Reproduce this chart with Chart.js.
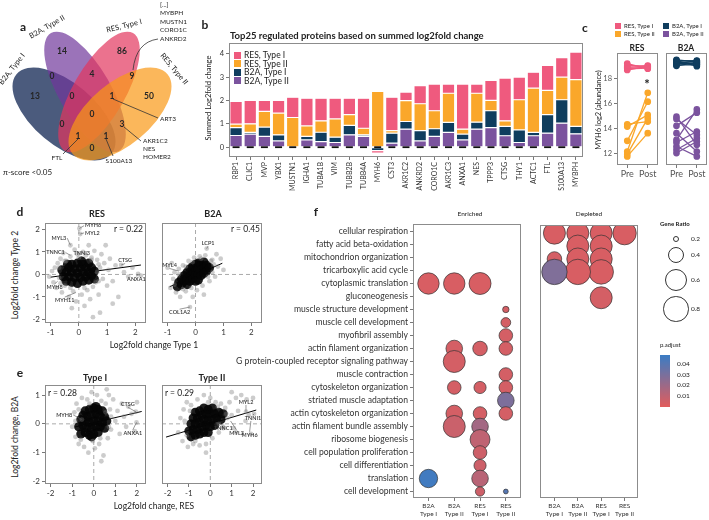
<!DOCTYPE html>
<html><head><meta charset="utf-8">
<script src="https://cdn.jsdelivr.net/npm/chart.js@4.4.1/dist/chart.umd.min.js"></script>
<style>
body{margin:0;background:#fff}
#fig{position:relative;width:709px;height:520px;overflow:hidden;background:#fff;font-family:Lato,"Noto Sans",sans-serif;color:#222}
.t{position:absolute;white-space:nowrap;line-height:1}
.sq{position:absolute}
</style></head><body><div id="fig"></div>
<script>
// ---- data ----
const vennCounts = [14, 86, 0, 4, 9, 13, 0, 1, 50, 0, 0, 3, 1, 1, 0];

const proteins = ['RBP1','CLIC1','MVP','YBX1','MUSTN1','IGHA1','TUBA1B','VIM','TUBB2B','TUBB4A','MYH6','CST3','AKR1C2','ANKRD2','CORO1C','AKR1C3','ANXA1','NES','TPPP3','CTSG','THY1','ACTC1','FTL','S100A13','MYBPH'];
const b2aTypeII = [0.50,0.56,0.46,0.27,-0.03,0.31,0.24,0.20,0.53,0.46,0.00,0.17,0.77,0.27,0.46,0.63,0.31,0.77,0.84,0.49,0.20,0.49,0.60,1.03,0.57];
const b2aTypeI  = [0.34,0.07,0.40,0.26,0.00,0.15,0.40,0.23,0.40,0.07,-0.15,0.43,0.33,0.44,0.33,0.43,0.25,0.30,0.72,0.40,0.54,0.14,0.79,1.00,0.32];
const resTypeII = [0.15,0.37,0.67,0.93,1.27,0.45,0.49,0.78,0.46,0.28,2.39,0.11,0.89,1.15,0.77,1.25,0.21,1.24,0.44,0.24,1.29,1.90,1.04,0.97,2.00];
const resTypeI  = [0.97,1.00,0.47,0.54,0.87,1.19,0.97,0.89,0.71,1.29,-0.10,1.43,0.37,0.77,1.14,0.39,1.93,0.39,0.86,1.83,0.97,0.68,1.07,0.83,1.18];

const timepoints = ['Pre', 'Post'];
const myh6ResIPre  = [19.15, 19.05, 18.95, 18.85, 18.75, 18.65];
const myh6ResIPost = [18.75, 18.85, 19.0, 18.9, 18.8, 18.95];
const myh6ResIIPre  = [14.34, 14.15, 13.02, 12.17, 11.97, 11.78];
const myh6ResIIPost = [14.55, 15.08, 16.13, 16.84, 14.81, 13.63];
const myh6B2aIPre  = [19.45, 19.38, 19.3, 19.22, 19.15, 19.05, 18.98, 19.4, 19.25];
const myh6B2aIPost = [19.3, 19.4, 19.15, 19.35, 19.2, 19.05, 19.25, 18.95, 19.1];
const myh6B2aIIPre  = [14.94, 14.76, 14.21, 13.63, 13.1, 12.89, 12.57, 12.31, 12.05];
const myh6B2aIIPost = [12.7, 13.5, 15.26, 12.17, 15.52, 13.76, 11.78, 13.23, 12.97];

// d: RES / B2A, type 1 vs type 2
const resCore = [[-0.55,-0.1],[-0.45,0.1],[-0.45,-0.3],[-0.35,0.3],[-0.35,-0.1],[-0.25,0.45],[-0.25,0.1],[-0.25,-0.35],[-0.15,0.25],[-0.15,-0.15],[-0.05,0.5],[-0.05,0.05],[-0.05,-0.4],[0.05,0.3],[0.05,-0.15],[0.15,0.45],[0.15,0.1],[0.15,-0.3],[0.25,0.3],[0.25,-0.1],[0.35,0.5],[0.35,0.1],[0.35,-0.25],[0.45,0.3],[0.45,-0.05],[0.55,0.15],[-0.6,0.2],[0.55,-0.2],[0.1,0.6],[-0.4,0.45]];
const resSpread = [[-1.05,-0.1],[-0.95,0.15],[-0.9,-0.35],[-0.85,0.3],[-0.8,-0.6],[-0.75,0.5],[-0.7,-0.15],[-0.65,0.7],[-0.6,-0.8],[-0.55,0.95],[-0.5,-0.5],[-0.45,0.6],[-0.3,1.3],[-0.35,-1.0],[-0.3,0.8],[-0.2,-0.75],[-0.15,1.1],[-0.1,-1.2],[-0.05,0.9],[0.02,2.05],[0.05,1.8],[0.1,-0.9],[0.15,1.0],[0.2,-1.4],[0.25,0.85],[0.3,-0.7],[0.35,1.3],[0.4,-1.1],[0.45,0.75],[0.5,-0.55],[0.55,1.05],[0.6,-0.35],[0.65,0.65],[0.7,-0.9],[0.75,0.3],[0.8,0.9],[0.85,-0.2],[0.9,0.5],[1.0,-0.5],[1.05,0.2],[1.1,0.7],[1.2,-0.3],[1.3,0.4],[1.4,-1.0],[1.5,0.42],[1.6,0.1],[1.75,-0.1],[1.9,0.3],[2.1,0.02],[0.75,-1.7],[0.5,-1.9],[1.2,-1.3],[-0.25,-1.5],[2.2,-0.05],[0.95,1.3],[-0.7,0.3],[-0.65,-0.4],[-0.5,0.6],[-0.3,-0.6],[0.0,0.75],[0.2,-0.6],[0.45,0.65],[0.7,-0.3],[0.7,0.45],[0.65,0.1]];
const resFit = [[-1.0,-0.12],[2.2,0.42]];
const b2aCore = [[-0.6,-0.35],[-0.5,-0.2],[-0.5,-0.45],[-0.4,-0.05],[-0.4,-0.3],[-0.3,0.1],[-0.3,-0.2],[-0.3,-0.45],[-0.2,0.25],[-0.2,-0.05],[-0.2,-0.3],[-0.1,0.35],[-0.1,0.1],[-0.1,-0.2],[0.0,0.45],[0.0,0.2],[0.0,-0.05],[0.0,-0.3],[0.1,0.5],[0.1,0.25],[0.1,0.0],[0.1,-0.25],[0.2,0.45],[0.2,0.2],[0.2,-0.05],[0.3,0.55],[0.3,0.3],[0.3,0.05],[0.4,0.4],[0.4,0.15],[0.5,0.3],[-0.65,-0.55]];
const b2aSpread = [[-1.0,0.3],[-0.9,-0.6],[-0.8,-0.2],[-0.75,0.1],[-0.7,-0.8],[-0.6,0.25],[-0.55,-1.0],[-0.45,0.4],[-0.35,-0.75],[-0.2,-1.45],[-0.25,0.6],[-0.15,-0.6],[-0.05,0.75],[0.05,-0.7],[0.15,0.8],[0.25,-0.5],[0.35,0.85],[0.4,1.15],[0.5,-0.3],[0.55,0.6],[0.6,0.1],[0.65,0.45],[0.7,-0.1],[0.8,0.35],[0.9,0.7],[1.0,0.2],[0.75,0.9],[-0.1,-1.0],[0.3,-0.9],[-0.85,0.5],[-0.75,-0.45],[-0.6,0.0],[-0.45,-0.65],[-0.35,0.35],[-0.1,0.55],[0.2,0.7],[0.45,-0.1],[0.6,0.65]];
const b2aFit = [[-0.93,-0.55],[0.96,0.5]];

// e: type I / type II, RES vs B2A
const typeICore = [[-0.7,-0.1],[-0.6,0.15],[-0.6,-0.35],[-0.5,0.3],[-0.5,-0.05],[-0.4,0.45],[-0.4,0.1],[-0.4,-0.3],[-0.3,0.25],[-0.3,-0.15],[-0.2,0.5],[-0.2,0.05],[-0.2,-0.4],[-0.1,0.3],[-0.1,-0.15],[0.0,0.55],[0.0,0.1],[0.0,-0.35],[0.1,0.35],[0.1,-0.1],[0.2,0.5],[0.2,0.1],[0.2,-0.3],[0.3,0.3],[0.3,-0.1],[0.4,0.45],[0.4,0.05],[0.5,0.25],[0.5,-0.15],[0.6,0.1],[-0.1,-0.45],[0.1,0.6]];
const typeISpread = [[-1.0,-0.1],[-0.9,0.4],[-0.85,-0.45],[-0.8,0.7],[-0.7,-0.7],[-0.55,0.15],[-0.55,0.9],[-0.45,-0.8],[-0.3,0.85],[-0.25,-1.0],[-0.1,1.1],[0.05,-0.85],[0.15,1.0],[0.25,-0.7],[0.35,0.8],[0.45,-1.1],[0.55,0.7],[0.65,-0.5],[0.75,0.5],[0.8,-0.2],[0.9,0.85],[1.0,0.1],[1.1,0.45],[1.2,-0.35],[1.3,0.7],[1.4,0.25],[1.5,-0.1],[1.6,0.6],[1.75,0.35],[1.9,-0.25],[2.0,0.75],[1.95,0.42],[1.98,0.05],[0.6,1.2],[0.35,-1.3],[-0.05,-0.6],[0.7,1.0],[-0.85,0.1],[-0.7,0.5],[-0.6,-0.55],[-0.2,0.7],[0.3,-0.5],[0.55,0.4],[0.7,-0.1],[0.8,0.25]];
const typeIFit = [[-0.88,-0.11],[2.22,0.43]];
const typeIICore = [[-1.0,-0.25],[-0.9,0.0],[-0.9,-0.45],[-0.8,0.2],[-0.8,-0.2],[-0.7,0.4],[-0.7,0.0],[-0.7,-0.4],[-0.6,0.2],[-0.6,-0.2],[-0.5,0.45],[-0.5,0.05],[-0.5,-0.35],[-0.4,0.3],[-0.4,-0.1],[-0.3,0.55],[-0.3,0.15],[-0.3,-0.3],[-0.2,0.35],[-0.2,-0.05],[-0.1,0.5],[-0.1,0.1],[-0.1,-0.3],[0.0,0.35],[0.0,-0.1],[0.1,0.55],[0.1,0.15],[0.2,0.35],[0.2,-0.05],[0.3,0.2],[0.4,0.4],[0.5,0.15],[0.6,0.35]];
const typeIISpread = [[-1.5,-0.3],[-1.4,0.2],[-1.3,-0.6],[-1.25,0.5],[-1.1,0.75],[-1.05,-0.8],[-0.9,0.65],[-0.8,-0.7],[-0.6,0.85],[-0.5,-0.75],[-0.3,1.0],[-0.2,-0.7],[0.0,0.9],[0.1,-0.5],[0.25,0.75],[0.4,-0.3],[0.5,0.7],[0.6,-0.1],[0.7,0.55],[0.8,0.2],[0.9,0.75],[1.0,0.3],[1.1,-0.15],[1.2,0.9],[1.3,0.45],[1.45,1.0],[1.67,0.42],[1.7,0.85],[1.8,0.3],[2.05,0.35],[2.0,0.9],[1.9,-0.35],[1.2,-0.3],[0.6,-0.15],[-0.2,-1.0],[1.65,0.1],[1.0,1.1],[-1.2,0.1],[-1.1,-0.4],[-0.95,0.45],[-0.7,-0.6],[-0.1,0.75],[0.35,0.6],[0.4,0.0],[0.75,0.35]];
const typeIIFit = [[-2.07,-0.46],[2.15,0.48]];

// f: GO terms, each column [row, gene ratio, p.adjust]
const goTerms = ['cellular respiration','fatty acid beta-oxidation','mitochondrion organization','tricarboxylic acid cycle','cytoplasmic translation','gluconeogenesis','muscle structure development','muscle cell development','myofibril assembly','actin filament organization','G protein-coupled receptor signaling pathway','muscle contraction','cytoskeleton organization','striated muscle adaptation','actin cytoskeleton organization','actin filament bundle assembly','ribosome biogenesis','cell population proliferation','cell differentiation','translation','cell development'];
const groups = [['B2A','Type I'],['B2A','Type II'],['RES','Type I'],['RES','Type II']];
const enrB2AI  = [[4,0.58,0.003],[19,0.48,0.046]];
const enrB2AII = [[4,0.58,0.003],[9,0.42,0.004],[10,0.6,0.004],[12,0.35,0.004],[14,0.42,0.004],[15,0.6,0.007]];
const enrRESI  = [[4,0.6,0.003],[9,0.37,0.004],[12,0.32,0.004],[14,0.35,0.004],[15,0.42,0.018],[16,0.53,0.01],[17,0.35,0.006],[18,0.32,0.006],[19,0.42,0.012],[20,0.26,0.006]];
const enrRESII = [[6,0.2,0.004],[7,0.27,0.004],[8,0.35,0.004],[9,0.35,0.004],[11,0.35,0.004],[12,0.35,0.004],[13,0.42,0.029],[14,0.35,0.004],[20,0.16,0.04]];
const depB2AI  = [[0,0.6,0.003],[2,0.37,0.004],[3,0.8,0.028]];
const depB2AII = [[0,0.6,0.003],[1,0.6,0.003],[2,0.6,0.003],[3,0.8,0.003]];
const depRESI  = [[0,0.6,0.003],[1,0.6,0.003],[2,0.6,0.003],[3,0.75,0.003],[5,0.6,0.004]];
const depRESII = [[0,0.68,0.003]];
const ratioLegend = [0.2, 0.4, 0.6, 0.8];
const padjTicks = [0.04, 0.03, 0.02, 0.01];

// ---- colours / helpers ----
const PINK = '#ef5a7e', ORANGE = '#faa72a', NAVY = '#0f3d5e', PURPLE = '#7b539e';
Chart.defaults.font.family = 'Lato, "Noto Sans", sans-serif';
Chart.defaults.color = '#333';
Chart.defaults.plugins.legend.display = false;
Chart.defaults.plugins.tooltip.enabled = false;
Chart.defaults.animation = false;

Chart.register({
  id: 'frame',
  defaults: { color: '#8c8c8c' },
  afterDatasetsDraw(chart, args, o) {
    const a = chart.chartArea, c = chart.ctx;
    c.save(); c.strokeStyle = o.color; c.lineWidth = 1;
    c.strokeRect(Math.round(a.left) + 0.5, Math.round(a.top) + 0.5, Math.round(a.right - a.left) - 1, Math.round(a.bottom - a.top) - 1);
    c.restore();
  }
});

const fig = document.getElementById('fig');
function mk(x, y, w, h, cfg) {
  const c = document.createElement('canvas');
  c.width = w; c.height = h;
  c.style.cssText = 'position:absolute;left:' + x + 'px;top:' + y + 'px;width:' + w + 'px;height:' + h + 'px';
  fig.appendChild(c);
  cfg.options.responsive = false;
  return new Chart(c, cfg);
}
// chart whose plot area is exactly the box L,T,W,H; m = [top,right,bottom,left] room for labels
function boxChart(L, T, W, H, m, cfg) {
  cfg.options.layout = { padding: { top: m[0], right: m[1], bottom: 0, left: 0 } };
  cfg.options.scales.x.afterFit = sc => { sc.height = m[2]; };
  cfg.options.scales.y.afterFit = sc => { sc.width = m[3]; };
  return mk(L - m[3], T - m[0], W + m[1] + m[3], H + m[0] + m[2], cfg);
}
const at = vals => s => { s.ticks = vals.map(v => ({ value: v })); };
const xy = a => a.map(p => ({ x: p[0], y: p[1] }));
const tickGrid = { display: true, drawOnChartArea: false, tickLength: 3, color: '#555', lineWidth: 0.8 };

function txt(s, x, y, o) {
  o = o || {};
  const d = document.createElement('div');
  d.className = 't';
  d.textContent = s;
  const ax = o.align === 'left' ? '0' : o.align === 'right' ? '-100%' : '-50%';
  d.style.left = x + 'px'; d.style.top = y + 'px';
  d.style.fontSize = (o.size || 8) + 'px';
  if (o.bold) d.style.fontWeight = 700;
  if (o.color) d.style.color = o.color;
  d.style.transform = 'translate(' + ax + ',-50%)' + (o.rot ? ' rotate(' + o.rot + 'deg)' : '');
  fig.appendChild(d);
}
function sq(x, y, w, h, css) {
  const d = document.createElement('div');
  d.className = 'sq';
  d.style.cssText += ';left:' + x + 'px;top:' + y + 'px;width:' + w + 'px;height:' + h + 'px;' + css;
  fig.appendChild(d);
}

// ---- a: Venn ----
const vennSets = [
  { cx: 64, cy: 114, a: 62, b: 31, rot: 40, color: '#2c3e66', alpha: 0.85 },
  { cx: 85, cy: 92, a: 68, b: 26, rot: 60, color: '#70389b', alpha: 0.7 },
  { cx: 99, cy: 92, a: 68, b: 26, rot: -60, color: '#e2365e', alpha: 0.7 },
  { cx: 120, cy: 114, a: 62, b: 31, rot: -40, color: '#f99816', alpha: 0.7 }
];
const vennSpots = [[62,51],[122,51],[52,76],[92,74],[132,76],[35,96],[72,96],[112,96],[149,96],[92,114],[62,124],[122,124],[78,136],[106,136],[92,148]];
const vennLines = [[[113,99],[158,118]],[[124,127],[141,141]],[[78,139],[63,154]],[[106,139],[113,156]]];
mk(0, 0, 200, 185, {
  type: 'scatter',
  data: { datasets: [{ data: vennSpots.map(p => ({ x: p[0], y: p[1] })), pointRadius: 0 }] },
  options: {
    layout: { padding: 0 },
    scales: { x: { display: false, min: 0, max: 200 }, y: { display: false, min: 0, max: 185, reverse: true } },
    plugins: { frame: false }
  },
  plugins: [{
    id: 'venn',
    beforeDatasetsDraw(ch) {
      const c = ch.ctx, X = v => ch.scales.x.getPixelForValue(v), Y = v => ch.scales.y.getPixelForValue(v);
      vennSets.forEach(e => {
        c.save(); c.globalAlpha = e.alpha; c.fillStyle = e.color;
        c.beginPath(); c.ellipse(X(e.cx), Y(e.cy), e.a, e.b, e.rot * Math.PI / 180, 0, 2 * Math.PI); c.fill();
        c.restore();
      });
      c.save(); c.strokeStyle = '#333'; c.lineWidth = 0.8;
      vennLines.forEach(l => { c.beginPath(); c.moveTo(X(l[0][0]), Y(l[0][1])); c.lineTo(X(l[1][0]), Y(l[1][1])); c.stroke(); });
      c.beginPath(); c.moveTo(X(133), Y(70)); c.quadraticCurveTo(X(136), Y(42), X(158), Y(39)); c.stroke();
      c.restore();
    },
    afterDatasetsDraw(ch) {
      const c = ch.ctx, pts = ch.getDatasetMeta(0).data;
      c.save(); c.font = '700 8.5px Lato, sans-serif'; c.fillStyle = '#262626';
      c.textAlign = 'center'; c.textBaseline = 'middle';
      pts.forEach((p, i) => c.fillText(String(vennCounts[i]), p.x, p.y));
      c.restore();
    }
  }]
});
txt('B2A, Type I', 12, 69, { size: 7.5, rot: -52 });
txt('B2A, Type II', 47, 27, { size: 7.5, rot: -30 });
txt('RES, Type I', 124, 26, { size: 7.5, rot: -14 });
txt('RES, Type II', 174, 69, { size: 7.5, rot: 50 });
['[...]', 'MYBPH', 'MUSTN1', 'CORO1C', 'ANKRD2'].forEach((s, i) => txt(s, 160, 5 + i * 8.4, { size: 6.5, align: 'left' }));
txt('ART3', 160, 119, { size: 6.5, align: 'left' });
['AKR1C2', 'NES', 'HOMER2'].forEach((s, i) => txt(s, 143, 141 + i * 8, { size: 6.5, align: 'left' }));
txt('FTL', 57, 158, { size: 6.5 });
txt('S100A13', 119, 161, { size: 6.5 });
txt('\u03c0-score <0.05', 3, 172, { size: 8, align: 'left' });

// ---- b: stacked bars ----
const barSeries = [
  ['B2A, Type II', b2aTypeII, PURPLE], ['B2A, Type I', b2aTypeI, NAVY],
  ['RES, Type II', resTypeII, ORANGE], ['RES, Type I', resTypeI, PINK]
];
boxChart(229, 43, 354, 114, [10, 10, 50, 30], {
  type: 'bar',
  data: {
    labels: proteins,
    datasets: barSeries.map(s => ({ label: s[0], data: s[1], backgroundColor: s[2], borderColor: 'rgba(255,255,255,0.85)', borderWidth: 0.6, borderSkipped: false, barPercentage: 0.88, categoryPercentage: 1 }))
  },
  options: {
    scales: {
      x: { stacked: true, border: { display: false }, grid: Object.assign({}, tickGrid, { offset: false }), ticks: { font: { size: 7 }, color: '#333', minRotation: 90, maxRotation: 90, autoSkip: false, padding: 2 } },
      y: { stacked: true, min: -0.42, max: 4.46, afterBuildTicks: at([0, 1, 2, 3, 4]), border: { display: false }, grid: tickGrid, ticks: { font: { size: 7.5 }, color: '#333', padding: 2 } }
    }
  },
  plugins: [{
    id: 'zeroDash',
    afterDatasetsDraw(ch) {
      const c = ch.ctx, y0 = ch.scales.y.getPixelForValue(0), x = ch.scales.x;
      c.save(); c.strokeStyle = '#111'; c.lineWidth = 1.8;
      proteins.forEach((p, i) => { const px = x.getPixelForValue(i); c.beginPath(); c.moveTo(px - 3.5, y0); c.lineTo(px + 3.5, y0); c.stroke(); });
      c.restore();
    }
  }]
});
txt('Top25 regulated proteins based on summed log2fold change', 230, 36, { size: 9.5, bold: true, align: 'left' });
txt('Summed Log2fold change', 209, 98, { size: 7.5, rot: -90 });
[['RES, Type I', PINK], ['RES, Type II', ORANGE], ['B2A, Type I', NAVY], ['B2A, Type II', PURPLE]].forEach((l, i) => {
  sq(234, 51.5 + i * 8.6, 7, 7, 'background:' + l[1]);
  txt(l[0], 244, 55.2 + i * 8.6, { size: 8.5, align: 'left' });
});

// ---- c: MYH6 paired ----
function pairSets(pre, post, color) {
  return pre.map((v, i) => ({ data: [v, post[i]], borderColor: color, backgroundColor: color, pointRadius: 2.7, borderWidth: 1.3 }));
}
function pairChart(L, W, sets, showY) {
  return boxChart(L, 53, W, 112, [10, 12, 20, showY ? 16 : 4], {
    type: 'line',
    data: { labels: timepoints, datasets: sets },
    options: {
      scales: {
        x: { offset: true, border: { display: false }, grid: tickGrid, ticks: { font: { size: 9 }, color: '#555', padding: 1, maxRotation: 0, autoSkip: false } },
        y: { min: 11.1, max: 20, afterBuildTicks: at([12, 14, 16, 18]), border: { display: false }, grid: showY ? tickGrid : { display: false }, ticks: { display: showY, font: { size: 7.5 }, color: '#555', padding: 2 } }
      }
    }
  });
}
pairChart(617, 41, pairSets(myh6ResIPre, myh6ResIPost, PINK).concat(pairSets(myh6ResIIPre, myh6ResIIPost, ORANGE)), true);
pairChart(665, 42, pairSets(myh6B2aIPre, myh6B2aIPost, NAVY).concat(pairSets(myh6B2aIIPre, myh6B2aIIPost, PURPLE)), false);
txt('RES', 637, 48, { size: 8.5, bold: true });
txt('B2A', 686, 48, { size: 8.5, bold: true });
txt('*', 647, 84, { size: 13, bold: true });
txt('MYH6 log2 (abundance)', 599, 110, { size: 7.5, rot: -90 });
[['RES, Type I', PINK, 615, 25.5], ['RES, Type II', ORANGE, 615, 34], ['B2A, Type I', NAVY, 663, 25.5], ['B2A, Type II', PURPLE, 663, 34]].forEach(l => {
  sq(l[2], l[3] - 3, 6, 6, 'background:' + l[1]);
  txt(l[0], l[2] + 9, l[3], { size: 6, align: 'left' });
});

// ---- d / e: scatter panels ----
function guides(notes) {
  return {
    id: 'guides',
    beforeDatasetsDraw(ch) {
      const c = ch.ctx, a = ch.chartArea, X = ch.scales.x.getPixelForValue(0), Y = ch.scales.y.getPixelForValue(0);
      c.save(); c.strokeStyle = '#aaa'; c.lineWidth = 1; c.setLineDash([4, 3]);
      c.beginPath(); c.moveTo(X, a.top); c.lineTo(X, a.bottom); c.moveTo(a.left, Y); c.lineTo(a.right, Y); c.stroke();
      c.restore();
    },
    afterDatasetsDraw(ch) {
      const c = ch.ctx, sx = ch.scales.x, sy = ch.scales.y;
      c.save(); c.font = '600 5.5px Lato, sans-serif'; c.fillStyle = '#333'; c.strokeStyle = '#555'; c.lineWidth = 0.6;
      c.textBaseline = 'middle';
      notes.forEach(n => {
        const px = sx.getPixelForValue(n[1]), py = sy.getPixelForValue(n[2]);
        const lx = sx.getPixelForValue(n[3]), ly = sy.getPixelForValue(n[4]);
        let ex = lx, ey = ly;
        if (n[5] === 'left') ex = lx - 1; else if (n[5] === 'right') ex = lx + 1; else ey = ly + (py > ly ? 3 : -3);
        c.beginPath(); c.moveTo(px, py); c.lineTo(ex, ey); c.stroke();
        c.textAlign = n[5];
        c.fillText(n[0], lx, ly);
      });
      c.restore();
    }
  };
}
function scatterPanel(L, T, W, H, o) {
  return boxChart(L, T, W, H, [10, 10, 24, o.yTicks ? 22 : 6], {
    type: 'scatter',
    data: { datasets: [
      { data: xy(o.spread), pointRadius: 2.4, backgroundColor: 'rgba(120,120,120,0.38)', borderWidth: 0 },
      { data: xy(o.core), pointRadius: 4.6, backgroundColor: 'rgba(5,5,5,0.9)', borderWidth: 0 },
      { data: xy(o.fit), showLine: true, pointRadius: 0, borderColor: '#000', borderWidth: 1 }
    ] },
    options: {
      scales: {
        x: { min: o.xr[0], max: o.xr[1], afterBuildTicks: at(o.xt), border: { display: false }, grid: tickGrid, ticks: { font: { size: 8 }, color: '#333', padding: 2, maxRotation: 0 } },
        y: { min: o.yr[0], max: o.yr[1], afterBuildTicks: at(o.yt), border: { display: false }, grid: o.yTicks ? tickGrid : { display: false }, ticks: { display: o.yTicks, font: { size: 8 }, color: '#333', padding: 2 } }
      }
    },
    plugins: [guides(o.notes)]
  });
}
const dX = [-1.2, 2.38], dY = [-2.16, 2.29], eX = [-2.26, 2.42], eY = [-2.09, 1.35];
scatterPanel(45, 223, 101, 100, { spread: resSpread, core: resCore, fit: resFit, xr: dX, yr: dY, xt: [-1, 0, 1, 2], yt: [-2, -1, 0, 1, 2], yTicks: true,
  notes: [['MYH6', 0.02, 2.05, 0.22, 2.17, 'left'], ['MYL2', 0.05, 1.8, 0.22, 1.85, 'left'], ['MYL3', -0.3, 1.3, -0.45, 1.62, 'right'], ['TNNC1', -0.3, 0.85, -0.5, 0.97, 'right'], ['TNNI3', 0.05, 0.7, 0.1, 0.95, 'center'], ['CTSG', 1.5, 0.42, 1.64, 0.62, 'center'], ['ANXA1', 2.1, 0.02, 2.04, -0.22, 'center'], ['MYH8', -0.75, -0.3, -0.86, -0.56, 'center'], ['MYH11', -0.1, -0.8, -0.5, -1.14, 'center']] });
scatterPanel(162, 223, 100, 100, { spread: b2aSpread, core: b2aCore, fit: b2aFit, xr: dX, yr: dY, xt: [-1, 0, 1, 2], yt: [-2, -1, 0, 1, 2], yTicks: false,
  notes: [['MYL4', -0.6, 0.15, -0.93, 0.4, 'center'], ['LCP1', 0.4, 1.15, 0.45, 1.4, 'center'], ['COL1A2', -0.2, -1.45, -0.57, -1.68, 'center']] });
scatterPanel(45, 385, 101, 99, { spread: typeISpread, core: typeICore, fit: typeIFit, xr: eX, yr: eY, xt: [-2, -1, 0, 1, 2], yt: [-2, -1, 0, 1], yTicks: true,
  notes: [['MYH8', -0.55, 0.15, -1.0, 0.31, 'right'], ['CTSG', 1.95, 0.42, 1.58, 0.68, 'center'], ['ANXA1', 1.98, 0.05, 1.81, -0.31, 'center']] });
scatterPanel(162, 385, 100, 99, { spread: typeIISpread, core: typeIICore, fit: typeIIFit, xr: eX, yr: eY, xt: [-2, -1, 0, 1, 2], yt: [-2, -1, 0, 1], yTicks: false,
  notes: [['MYL2', 1.67, 0.42, 1.67, 0.76, 'center'], ['TNNI1', 2.05, 0.35, 2.0, 0.2, 'center'], ['TNNC1', 0.25, 0.05, 0.61, -0.15, 'center'], ['MYL3', 0.95, 0.1, 1.23, -0.32, 'center'], ['MYH6', 1.9, 0.1, 1.84, -0.38, 'center']] });
txt('RES', 97, 213, { size: 9, bold: true });
txt('B2A', 213, 213, { size: 9, bold: true });
txt('Type I', 95, 377, { size: 9, bold: true });
txt('Type II', 212, 377, { size: 9, bold: true });
txt('r = 0.22', 143, 229, { size: 8.5, align: 'right' });
txt('r = 0.45', 260, 229, { size: 8.5, align: 'right' });
txt('r = 0.28', 48, 393, { size: 8.5, align: 'left' });
txt('r = 0.29', 165, 393, { size: 8.5, align: 'left' });
txt('Log2fold change Type 1', 154, 345, { size: 8.5 });
txt('Log2fold change Type 2', 15, 275, { size: 8.5, rot: -90 });
txt('Log2fold change, RES', 154, 506, { size: 8.5 });
txt('Log2fold change, B2A', 15, 437, { size: 8.5, rot: -90 });

// ---- f: GO dot plot ----
const sizeStops = [[0.1, 1.2], [0.2, 3.2], [0.4, 8], [0.6, 11], [0.8, 12.7]];
function ratioRadius(g) {
  for (let i = 1; i < sizeStops.length; i++) {
    const a = sizeStops[i - 1], b = sizeStops[i];
    if (g <= b[0] || i === sizeStops.length - 1) return a[1] + (b[1] - a[1]) * (g - a[0]) / (b[0] - a[0]);
  }
}
function padjColor(p) {
  const t = Math.max(0, Math.min(1, p / 0.048)), lo = [226, 92, 92], hi = [58, 124, 196];
  return 'rgb(' + lo.map((v, i) => Math.round(v + (hi[i] - v) * t)).join(',') + ')';
}
function bubbleSets(cols) {
  return cols.map((col, ci) => ({
    data: col.map(d => ({ x: ci, y: d[0], r: ratioRadius(d[1]), p: d[2] })),
    backgroundColor: ctx => padjColor(ctx.raw ? ctx.raw.p : 0),
    borderColor: '#333', borderWidth: 0.7, clip: 0
  }));
}
function dotChart(L, cols, showY) {
  return boxChart(L, 222, L === 413 ? 114 : 113, 276, [10, 6, 28, showY ? 206 : 6], {
    type: 'bubble',
    data: { datasets: bubbleSets(cols) },
    options: {
      scales: {
        x: { min: -0.6, max: 3.6, afterBuildTicks: at([0, 1, 2, 3]), border: { display: false }, grid: tickGrid, ticks: { font: { size: 6.5 }, color: '#333', padding: 1, maxRotation: 0, autoSkip: false, callback: v => groups[v] } },
        y: { min: -0.6, max: 20.5, reverse: true, afterBuildTicks: at(goTerms.map((g, i) => i)), border: { display: false }, grid: showY ? tickGrid : { display: false }, ticks: { display: showY, autoSkip: false, font: { size: 8.6 }, color: '#333', padding: 2, callback: v => goTerms[v] } }
      }
    }
  });
}
dotChart(413, [enrB2AI, enrB2AII, enrRESI, enrRESII], true);
dotChart(533, [depB2AI, depB2AII, depRESI, depRESII], false);
txt('Enriched', 470, 214, { size: 6.5 });
txt('Depleted', 589, 214, { size: 6.5 });
txt('Gene Ratio', 660, 224, { size: 6, bold: true, align: 'left' });
[239, 255, 280, 309].forEach((y, i) => {
  const r = ratioRadius(ratioLegend[i]);
  sq(676 - r, y - r, 2 * r, 2 * r, 'border:0.8px solid #333;border-radius:50%;box-sizing:border-box');
  txt(String(ratioLegend[i]), 691, y, { size: 6.5, align: 'left' });
});
txt('p.adjust', 660, 345, { size: 6, align: 'left' });
sq(660, 355, 10, 52, 'background:linear-gradient(to bottom,' + padjColor(0.048) + ',' + padjColor(0) + ')');
padjTicks.forEach(p => txt(String(p), 677, 407 - p / 0.048 * 52, { size: 6.5, align: 'left' }));

// panel letters
[['a', 23, 27], ['b', 205, 25], ['c', 585, 28], ['d', 20, 212], ['e', 20, 373], ['f', 316, 212]].forEach(l => txt(l[0], l[1], l[2], { size: 12, bold: true }));
</script></body></html>
